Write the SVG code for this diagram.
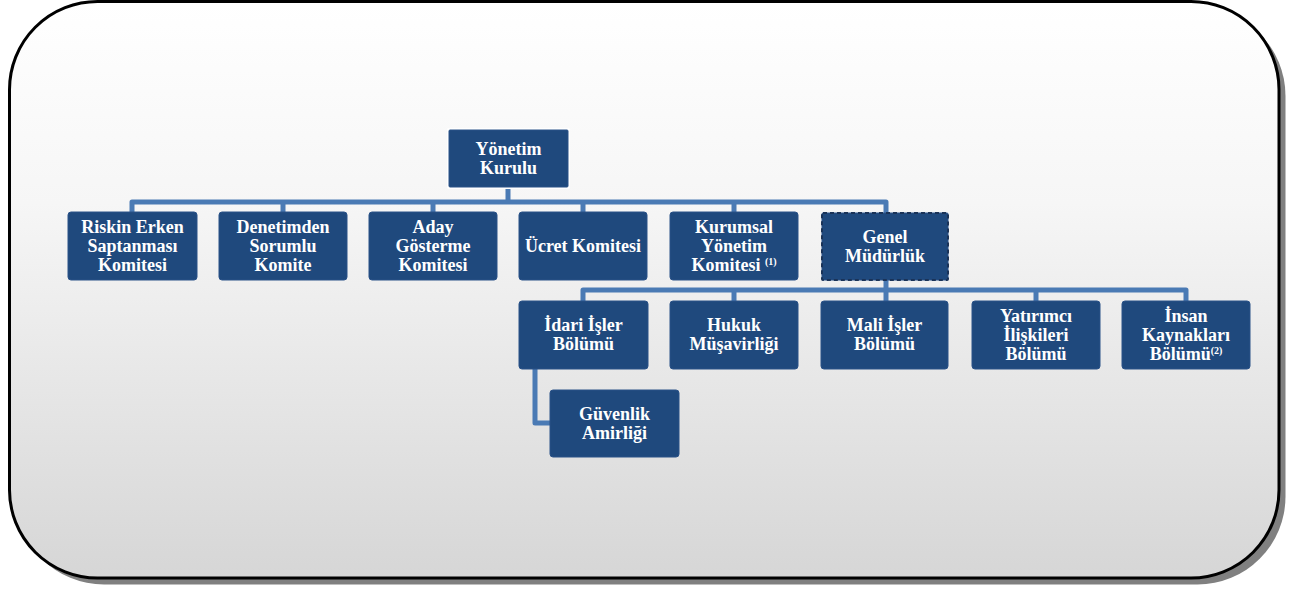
<svg xmlns="http://www.w3.org/2000/svg" width="1300" height="589" viewBox="0 0 1300 589">
<defs>
<linearGradient id="bg" x1="0" y1="0" x2="0" y2="1">
<stop offset="0" stop-color="#ffffff"/>
<stop offset="0.35" stop-color="#f6f6f6"/>
<stop offset="1" stop-color="#d6d6d6"/>
</linearGradient>
</defs>
<style>
.box{fill:#1f497d;stroke:#2a5288;stroke-width:1}
text{font-family:'Liberation Serif','Times New Roman',serif;font-weight:bold;font-size:18px;fill:#ffffff;text-anchor:middle}
.sup{font-size:10px}
.con{fill:none;stroke:#4a7ab4;stroke-width:5;stroke-linejoin:round;stroke-linecap:butt}
</style>
<rect x="16" y="8" width="1269.5" height="576.5" rx="88" ry="88" fill="#808080"/>
<rect x="9.5" y="1.5" width="1269.5" height="576.5" rx="88" ry="88" fill="url(#bg)" stroke="#000000" stroke-width="3"/>
<g id="connectors">
<path class="con" d="M508,187 V202"/>
<path class="con" d="M132,213 V202 H886 V213"/>
<path class="con" d="M283,202 V213 M433,202 V213 M583,202 V213 M734,202 V213"/>
<path class="con" d="M886,280 V302"/>
<path class="con" d="M583,302 V290 H1186 V302"/>
<path class="con" d="M734,290 V302 M1036,290 V302"/>
<path class="con" d="M535,369 V423 H551"/>
</g>
<g font-family="Liberation Serif, Times New Roman, serif">
<g id="yonetim-kurulu">
<rect x="447" y="128" width="123" height="61" rx="2" fill="#ffffff"/>
<rect class="box" x="449" y="130" width="119" height="57" rx="1"/>
<text x="508.5" y="155">Yönetim</text>
<text x="508.5" y="174">Kurulu</text>
</g>
<g id="riskin-erken">
<rect class="box" x="68" y="212" width="129" height="68" rx="3"/>
<text x="132.5" y="233">Riskin Erken</text>
<text x="132.5" y="252">Saptanması</text>
<text x="132.5" y="271">Komitesi</text>
</g>
<g id="denetimden">
<rect class="box" x="219" y="212" width="128" height="68" rx="3"/>
<text x="283" y="233">Denetimden</text>
<text x="283" y="252">Sorumlu</text>
<text x="283" y="271">Komite</text>
</g>
<g id="aday">
<rect class="box" x="369" y="212" width="128" height="68" rx="3"/>
<text x="433" y="233">Aday</text>
<text x="433" y="252">Gösterme</text>
<text x="433" y="271">Komitesi</text>
</g>
<g id="ucret">
<rect class="box" x="519" y="212" width="128" height="68" rx="3"/>
<text x="583" y="252">Ücret Komitesi</text>
</g>
<g id="kurumsal">
<rect class="box" x="670" y="212" width="128" height="68" rx="3"/>
<text x="734" y="233">Kurumsal</text>
<text x="734" y="252">Yönetim</text>
<text x="734" y="271">Komitesi <tspan class="sup" dy="-6">(1)</tspan></text>
</g>
<g id="genel-mudurluk">
<rect class="box" x="822" y="213" width="126" height="67" rx="1" stroke="#ffffff" stroke-width="2.5"/>
<rect x="822" y="213" width="126" height="67" rx="1" fill="none" stroke="#1a3358" stroke-width="2" stroke-dasharray="4 3"/>
<text x="885" y="243">Genel</text>
<text x="885" y="262">Müdürlük</text>
</g>
<g id="idari-isler">
<rect class="box" x="519" y="301" width="129" height="68" rx="3"/>
<text x="583.5" y="331">İdari İşler</text>
<text x="583.5" y="350">Bölümü</text>
</g>
<g id="hukuk">
<rect class="box" x="670" y="301" width="128" height="68" rx="3"/>
<text x="734" y="331">Hukuk</text>
<text x="734" y="350">Müşavirliği</text>
</g>
<g id="mali-isler">
<rect class="box" x="821" y="301" width="127" height="68" rx="3"/>
<text x="884.5" y="331">Mali İşler</text>
<text x="884.5" y="350">Bölümü</text>
</g>
<g id="yatirimci">
<rect class="box" x="972" y="301" width="128" height="68" rx="3"/>
<text x="1036" y="322">Yatırımcı</text>
<text x="1036" y="341">İlişkileri</text>
<text x="1036" y="360">Bölümü</text>
</g>
<g id="insan-kaynaklari">
<rect class="box" x="1122" y="301" width="128" height="68" rx="3"/>
<text x="1186" y="322">İnsan</text>
<text x="1186" y="341">Kaynakları</text>
<text x="1186" y="360">Bölümü<tspan class="sup" dy="-6">(2)</tspan></text>
</g>
<g id="guvenlik">
<rect class="box" x="550" y="390" width="129" height="67" rx="3"/>
<text x="614.5" y="420">Güvenlik</text>
<text x="614.5" y="439">Amirliği</text>
</g>
</g>
</svg>
